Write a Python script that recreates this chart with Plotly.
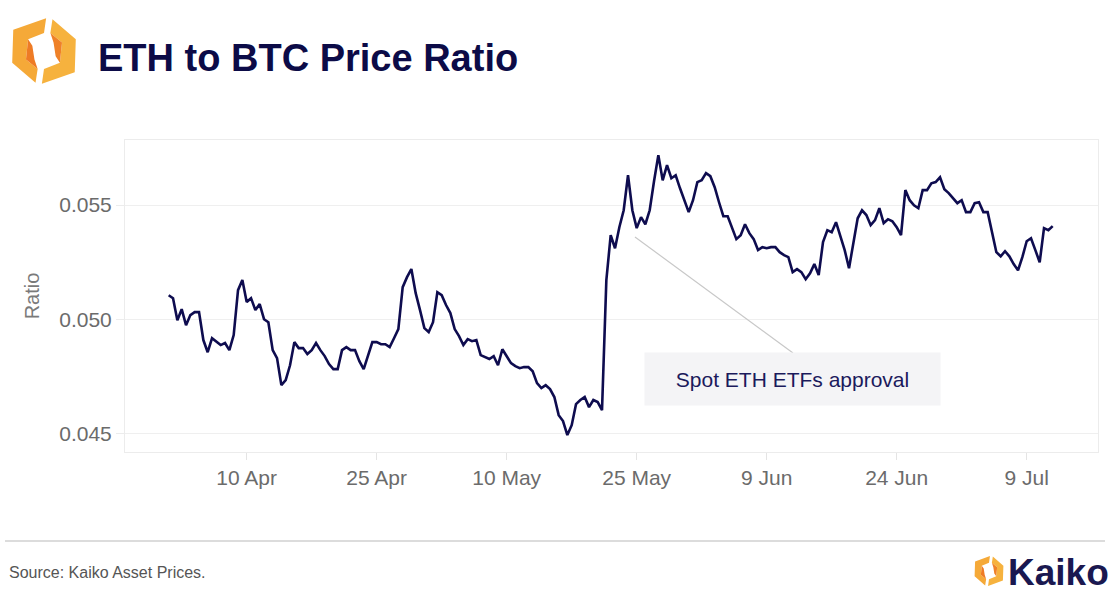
import pandas as pd
import plotly.graph_objects as go

# ---------------- data ----------------
series_start = "2024-04-01 00:00"
series_freq = "12h"
eth_btc_ratio = [
    0.05106, 0.05093, 0.04997, 0.05045, 0.04975, 0.05019, 0.05032, 0.05032, 0.04910, 0.04857,
    0.04918, 0.04905, 0.04888, 0.04897, 0.04866, 0.04932, 0.05128, 0.05172, 0.05076, 0.05093,
    0.05041, 0.05067, 0.05001, 0.04988, 0.04866, 0.04831, 0.04713, 0.04735, 0.04800, 0.04901,
    0.04875, 0.04875, 0.04849, 0.04866, 0.04897, 0.04866, 0.04840, 0.04805, 0.04783, 0.04783,
    0.04866, 0.04879, 0.04866, 0.04866, 0.04818, 0.04783, 0.04844, 0.04901, 0.04901, 0.04892,
    0.04892, 0.04879, 0.04918, 0.04958, 0.05141, 0.05185, 0.05220, 0.05115, 0.05041, 0.04962,
    0.04945, 0.04988, 0.05119, 0.05106, 0.05063, 0.05028, 0.04958, 0.04927, 0.04888, 0.04914,
    0.04905, 0.04910, 0.04844, 0.04835, 0.04827, 0.04840, 0.04800, 0.04870, 0.04840, 0.04809,
    0.04796, 0.04787, 0.04792, 0.04792, 0.04774, 0.04722, 0.04700, 0.04713, 0.04696, 0.04661,
    0.04582, 0.04556, 0.04495, 0.04538, 0.04630, 0.04648, 0.04661, 0.04617, 0.04648, 0.04639,
    0.04604, 0.05172, 0.05368, 0.05311, 0.05403, 0.05477, 0.05630, 0.05477, 0.05399, 0.05447,
    0.05416, 0.05477, 0.05604, 0.05718, 0.05608, 0.05674, 0.05617, 0.05630, 0.05573, 0.05521,
    0.05469, 0.05521, 0.05600, 0.05608, 0.05639, 0.05626, 0.05578, 0.05512, 0.05451, 0.05451,
    0.05399, 0.05351, 0.05368, 0.05416, 0.05377, 0.05351, 0.05303, 0.05316, 0.05311, 0.05316,
    0.05316, 0.05294, 0.05281, 0.05272, 0.05207, 0.05220, 0.05207, 0.05176, 0.05202, 0.05242,
    0.05194, 0.05338, 0.05390, 0.05381, 0.05425, 0.05364, 0.05303, 0.05224, 0.05325, 0.05442,
    0.05477, 0.05456, 0.05412, 0.05434, 0.05486, 0.05421, 0.05438, 0.05429, 0.05403, 0.05368,
    0.05565, 0.05521, 0.05499, 0.05486, 0.05565, 0.05565, 0.05595, 0.05600, 0.05621, 0.05569,
    0.05552, 0.05530, 0.05508, 0.05521, 0.05469, 0.05469, 0.05508, 0.05512, 0.05469, 0.05469,
    0.05386, 0.05294, 0.05276, 0.05298, 0.05276, 0.05242, 0.05215, 0.05272, 0.05342, 0.05355,
    0.05303, 0.05250, 0.05399, 0.05390, 0.05408,
]
x_tick_dates = ["2024-04-10", "2024-04-25", "2024-05-10", "2024-05-25",
                "2024-06-09", "2024-06-24", "2024-07-09"]
x_tick_labels = ["10 Apr", "25 Apr", "10 May", "25 May", "9 Jun", "24 Jun", "9 Jul"]
y_tick_values = [0.045, 0.050, 0.055]
y_tick_labels = ["0.045", "0.050", "0.055"]

title_text = "ETH to BTC Price Ratio"
y_title = "Ratio"
callout_text = "Spot ETH ETFs approval"
source_text = "Source: Kaiko Asset Prices."
brand_text = "Kaiko"

dates = pd.date_range(series_start, periods=len(eth_btc_ratio), freq=series_freq)

# ---------------- layout geometry ----------------
W, H = 1117, 600
ML, MR, MT, MB = 125, 19, 140, 148
FONT = "Liberation Sans, Arial, Helvetica, sans-serif"
NAVY = "#0e0c4f"


def px(x):
    return (x - ML) / (W - ML - MR)


def py(y):
    return (H - MB - y) / (H - MT - MB)


def logo_paths(cx, cy, s):
    left = [(44, 19), (13, 30), (12, 61), (34, 80), (36, 67), (25, 58), (27, 39), (42, 33)]
    right = [(84 - a, 100 - b) for a, b in left]
    inner_l = [(27, 39), (25, 58), (36, 67), (33, 58), (31, 45)]
    inner_r = [(84 - a, 100 - b) for a, b in inner_l]
    out = []
    for pts, col in ((left, "#F5A938"), (right, "#F6B23E"), (inner_l, "#EE7B25"), (inner_r, "#EF8128")):
        d = ""
        for i, (a, b) in enumerate(pts):
            X = cx + (a - 42) * s
            Y = cy + (b - 50) * s
            d += ("M" if i == 0 else "L") + f"{px(X):.5f},{py(Y):.5f} "
        d += "Z"
        out.append(dict(type="path", path=d, xref="paper", yref="paper",
                        fillcolor=col, line=dict(width=0), layer="above"))
    return out


fig = go.Figure()
fig.add_trace(go.Scatter(
    x=dates, y=eth_btc_ratio, mode="lines",
    line=dict(color=NAVY, width=2.6),
    hoverinfo="x+y", showlegend=False,
))

shapes = []
shapes += logo_paths(44, 51, 1.06)
shapes += logo_paths(989, 571, 0.48)
# footer separator
shapes.append(dict(type="line", xref="paper", yref="paper",
                   x0=px(5), x1=px(1105), y0=py(541), y1=py(541),
                   line=dict(color="#d0d0d0", width=1.5)))
# callout leader line
shapes.append(dict(type="line", xref="paper", yref="paper",
                   x0=px(635), y0=py(237), x1=px(793), y1=py(353),
                   line=dict(color="#c8c8c8", width=1.2)))

annotations = [
    dict(xref="paper", yref="paper", x=px(792), y=py(379), text=callout_text,
         showarrow=False, bgcolor="#f4f4f6", borderpad=14, width=267, height=24,
         font=dict(family=FONT, size=21, color="#1b1a5c"), xanchor="center", yanchor="middle"),
    dict(xref="paper", yref="paper", x=px(7), y=py(572), text=source_text,
         showarrow=False, xanchor="left", yanchor="middle",
         font=dict(family=FONT, size=16, color="#555555")),
    dict(xref="paper", yref="paper", x=px(1006), y=py(572), text=f"<b>{brand_text}</b>",
         showarrow=False, xanchor="left", yanchor="middle",
         font=dict(family=FONT, size=37, color="#1a1850")),
]

fig.update_layout(
    width=W, height=H,
    margin=dict(l=ML, r=MR, t=MT, b=MB),
    paper_bgcolor="white", plot_bgcolor="white",
    font=dict(family=FONT, color="#6b6b6b"),
    title=dict(text=f"<b>{title_text}</b>", xref="container", yref="container",
               x=98 / W, y=1 - 58 / H, xanchor="left", yanchor="middle",
               font=dict(family=FONT, size=38, color="#0c0b47")),
    shapes=shapes,
    annotations=annotations,
    showlegend=False,
)

fig.update_xaxes(
    type="date",
    range=["2024-03-26 23:00", "2024-07-17 05:30"],
    tickvals=x_tick_dates, ticktext=x_tick_labels,
    tickfont=dict(size=21, color="#6b6b6b"),
    showgrid=False, zeroline=False,
    showline=True, mirror=True, linecolor="#ececec", linewidth=1,
    ticks="outside", ticklen=7, tickcolor="#e4e4e4",
)
fig.update_yaxes(
    range=[0.04421, 0.05784],
    tickvals=y_tick_values, ticktext=y_tick_labels,
    tickfont=dict(size=21, color="#6b6b6b"),
    title=dict(text=y_title, font=dict(size=20, color="#7a7a7a"), standoff=14),
    showgrid=True, gridcolor="#efefef", gridwidth=1,
    zeroline=False,
    showline=True, mirror=True, linecolor="#ececec", linewidth=1,
    ticks="outside", ticklen=8, tickcolor="#ececec",
)

fig.write_html("out.html", config={"displayModeBar": False},
               post_script="document.body.style.margin='0px';")
